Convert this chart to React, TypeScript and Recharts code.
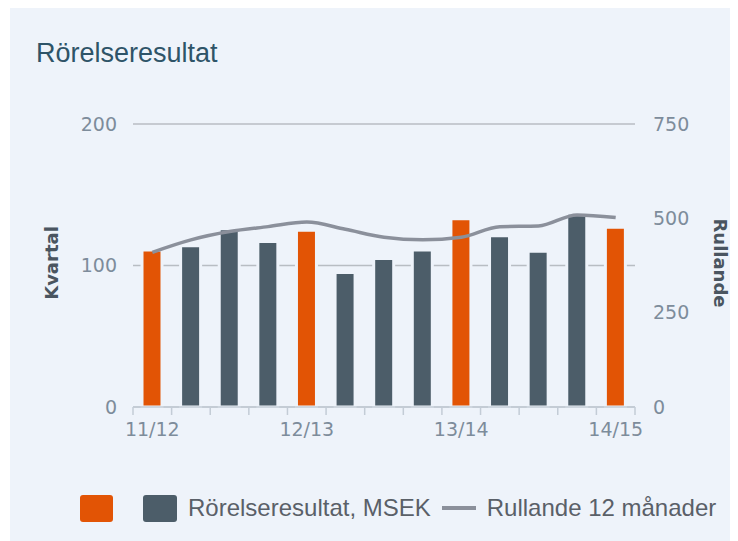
import React from 'react';
import { ComposedChart, Bar, Line, XAxis, YAxis, CartesianGrid, Cell } from 'recharts';

const periods = ['11/12', '12K2', '12K3', '12K4', '12/13', '13K2', '13K3', '13K4', '13/14', '14K2', '14K3', '14K4', '14/15'];
const kvartal = [111, 114, 126, 117, 125, 95, 105, 111, 133, 121, 110, 137, 127];
const rullande = [410, 443, 465, 478, 490, 471, 450, 443, 450, 478, 480, 509, 502];
const leftTicks = [0, 100, 200];
const rightTicks = [0, 250, 500, 750];

const data = periods.map((p, i) => ({ period: p, kvartal: kvartal[i], rullande: rullande[i] }));

const ORANGE = '#e25405';
const DARK = '#4c5d69';
const LINE = '#8b909b';
const BG = '#eef3fa';
const TICK = '#7d8c9b';
const AXIS = '#c3ccd6';

const isYear = (p: string) => p.includes('/');

const XTick = (props: any) => {
  const { x, y, payload, index } = props;
  const off = payload.offset || 19.3;
  const top = y - 8;
  return (
    <g>
      <line x1={x - off} y1={top} x2={x - off} y2={y} stroke={AXIS} strokeWidth={1.5} />
      {index === periods.length - 1 && (
        <line x1={x + off} y1={top} x2={x + off} y2={y} stroke={AXIS} strokeWidth={1.5} />
      )}
      {isYear(payload.value) && (
        <text x={x} y={y + 21} textAnchor="middle" fill={TICK} fontSize={19} fontFamily="DejaVu Sans">
          {payload.value}
        </text>
      )}
    </g>
  );
};

export default function App() {
  return (
    <div style={{ position: 'relative', width: 728, height: 533, marginLeft: 2, background: BG }}>
      <div style={{ position: 'absolute', left: 26, top: 32, fontFamily: 'Liberation Sans, Arial, sans-serif', fontSize: 27, lineHeight: '27px', color: '#2e5468' }}>
        Rörelseresultat
      </div>
      <div style={{ position: 'absolute', left: 41, top: 255, transform: 'translate(-50%, -50%) rotate(-90deg)', fontFamily: 'DejaVu Sans', fontWeight: 'bold', fontSize: 18, color: '#4a5560', whiteSpace: 'nowrap' }}>
        Kvartal
      </div>
      <div style={{ position: 'absolute', left: 710, top: 255, transform: 'translate(-50%, -50%) rotate(90deg)', fontFamily: 'DejaVu Sans', fontWeight: 'bold', fontSize: 18, color: '#4a5560', whiteSpace: 'nowrap' }}>
        Rullande
      </div>
      <ComposedChart width={728} height={533} data={data} margin={{ top: 116, right: 23, bottom: 94, left: 43 }}>
        <CartesianGrid vertical={false} stroke="#b8bdc3" strokeWidth={1.5} yAxisId="left" />
        <XAxis
          dataKey="period"
          interval={0}
          tickSize={8}
          tickMargin={0}
          tickLine={false}
          height={40}
          axisLine={{ stroke: AXIS, strokeWidth: 1.5 }}
          tick={<XTick />}
        />
        <YAxis
          yAxisId="left"
          width={80}
          domain={[0, 200]}
          ticks={leftTicks}
          axisLine={false}
          tickLine={false}
          tickMargin={10}
          tick={{ fill: TICK, fontSize: 19, fontFamily: 'DejaVu Sans' }}
        />
        <YAxis
          yAxisId="right"
          orientation="right"
          width={80}
          domain={[0, 750]}
          ticks={rightTicks}
          axisLine={false}
          tickLine={false}
          tickMargin={12}
          tick={{ fill: TICK, fontSize: 19, fontFamily: 'DejaVu Sans', textAnchor: 'start' }}
        />
        <Bar yAxisId="left" dataKey="kvartal" barSize={20} stroke={BG} strokeWidth={3} isAnimationActive={false}>
          {data.map((d, i) => (
            <Cell key={i} fill={isYear(d.period) ? ORANGE : DARK} />
          ))}
        </Bar>
        <Line yAxisId="right" type="monotone" dataKey="rullande" stroke={LINE} strokeWidth={3.5} dot={false} isAnimationActive={false} />
      </ComposedChart>
      <div style={{ position: 'absolute', left: 70, top: 486, display: 'flex', alignItems: 'center', fontFamily: 'Liberation Sans, Arial, sans-serif', fontSize: 24, color: '#5a6068' }}>
        <span style={{ width: 33, height: 27, background: ORANGE, borderRadius: 3, display: 'inline-block' }} />
        <span style={{ width: 34, height: 27, background: DARK, borderRadius: 3, display: 'inline-block', marginLeft: 30 }} />
        <span style={{ marginLeft: 11 }}>Rörelseresultat, MSEK</span>
        <span style={{ width: 34, height: 4, background: LINE, display: 'inline-block', marginLeft: 11 }} />
        <span style={{ marginLeft: 11 }}>Rullande 12 månader</span>
      </div>
    </div>
  );
}
